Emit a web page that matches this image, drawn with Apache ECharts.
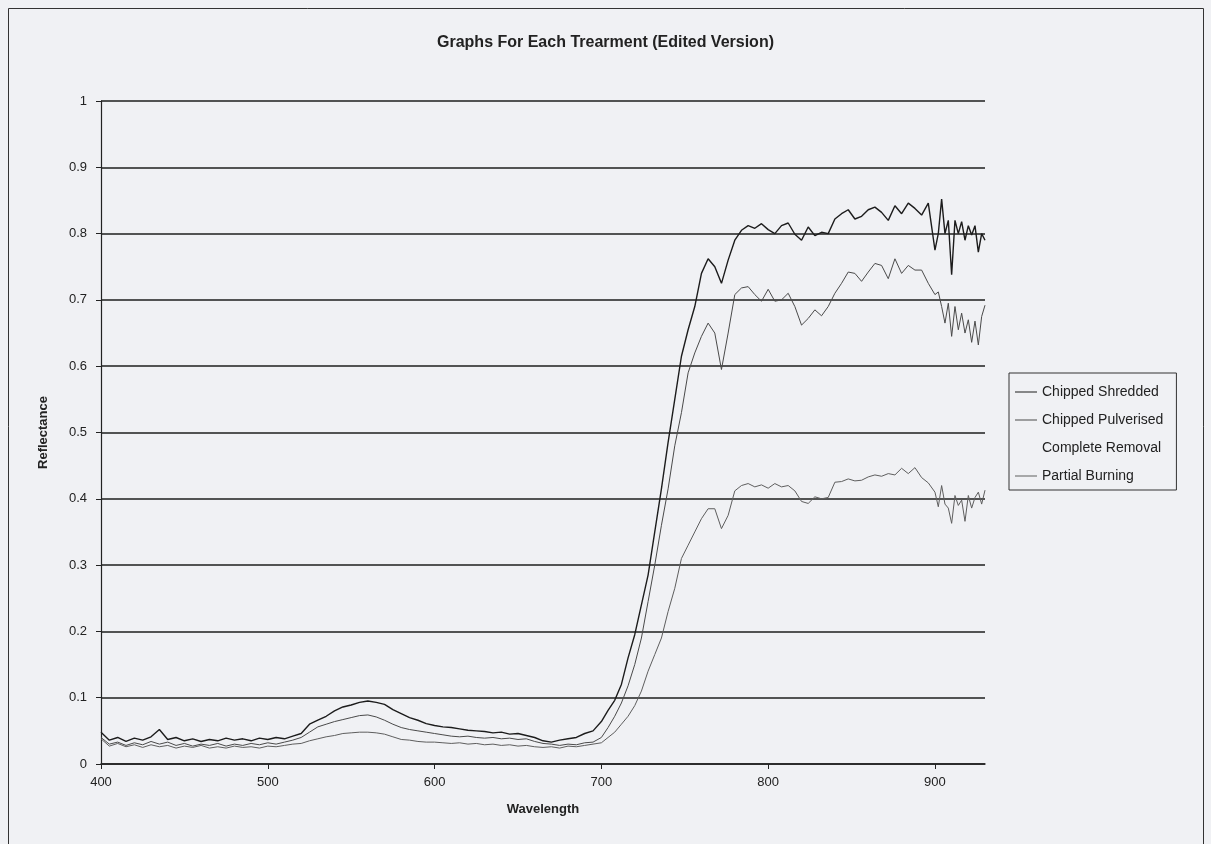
<!DOCTYPE html>
<html>
<head>
<meta charset="utf-8">
<title>Graphs For Each Trearment</title>
<script src="https://cdn.jsdelivr.net/npm/echarts@6/dist/echarts.min.js"></script>
<style>
  html, body { margin: 0; padding: 0; background: #f0f1f4; }
  #chart { width: 1211px; height: 844px; }
</style>
</head>
<body>
<div id="chart"></div>
<script>
// wavelengths (nm) - finer sampling where the curves get noisy
var wavelengths = [
  400,405,410,415,420,425,430,435,440,445,450,455,460,465,470,475,480,485,490,495,
  500,505,510,515,520,525,530,535,540,545,550,555,560,565,570,575,580,585,590,595,
  600,605,610,615,620,625,630,635,640,645,650,655,660,665,670,675,680,685,690,695,700,
  704,708,712,716,720,724,728,732,736,740,744,748,752,756,760,764,768,772,776,780,
  784,788,792,796,800,804,808,812,816,820,824,828,832,836,840,844,848,852,856,860,
  864,868,872,876,880,884,888,892,896,900,
  902,904,906,908,910,912,914,916,918,920,922,924,926,928,930
];

var chippedShredded = [
  0.048,0.036,0.040,0.034,0.039,0.036,0.041,0.052,0.037,0.040,0.035,0.038,0.034,0.037,0.035,0.039,0.036,0.038,0.035,0.039,
  0.037,0.040,0.038,0.042,0.046,0.060,0.066,0.072,0.080,0.086,0.089,0.093,0.095,0.093,0.090,0.082,0.076,0.070,0.066,0.061,
  0.058,0.056,0.055,0.053,0.051,0.050,0.049,0.047,0.048,0.045,0.046,0.043,0.040,0.035,0.033,0.036,0.038,0.040,0.046,0.050,0.064,
  0.081,0.096,0.120,0.160,0.195,0.240,0.285,0.350,0.415,0.485,0.550,0.615,0.655,0.690,0.740,0.762,0.750,0.725,0.760,0.790,
  0.805,0.812,0.808,0.815,0.806,0.800,0.812,0.816,0.799,0.790,0.810,0.797,0.802,0.800,0.822,0.830,0.836,0.822,0.826,0.836,
  0.840,0.832,0.820,0.842,0.830,0.846,0.838,0.828,0.846,0.775,
  0.800,0.852,0.800,0.820,0.738,0.820,0.800,0.818,0.790,0.812,0.798,0.812,0.772,0.800,0.790
];

var chippedPulverised = [
  0.040,0.030,0.033,0.028,0.032,0.029,0.034,0.030,0.033,0.028,0.031,0.027,0.030,0.028,0.031,0.027,0.030,0.028,0.031,0.029,
  0.032,0.030,0.033,0.036,0.040,0.048,0.056,0.060,0.064,0.067,0.070,0.073,0.074,0.071,0.066,0.060,0.055,0.052,0.050,0.048,
  0.046,0.044,0.042,0.041,0.042,0.040,0.039,0.040,0.038,0.039,0.037,0.038,0.034,0.031,0.030,0.028,0.030,0.029,0.032,0.033,0.040,
  0.055,0.072,0.092,0.118,0.150,0.190,0.245,0.300,0.360,0.415,0.480,0.530,0.590,0.620,0.645,0.665,0.650,0.595,0.650,0.708,
  0.718,0.720,0.708,0.698,0.716,0.698,0.700,0.710,0.690,0.662,0.672,0.685,0.676,0.690,0.710,0.725,0.742,0.740,0.728,0.742,
  0.755,0.752,0.732,0.762,0.740,0.752,0.745,0.745,0.725,0.708,
  0.712,0.690,0.665,0.695,0.645,0.690,0.655,0.680,0.650,0.670,0.636,0.668,0.632,0.675,0.692
];

var completeRemoval = [];

var partialBurning = [
  0.038,0.027,0.031,0.026,0.029,0.025,0.029,0.026,0.028,0.024,0.027,0.025,0.028,0.024,0.026,0.024,0.027,0.025,0.026,0.024,
  0.027,0.026,0.028,0.030,0.031,0.035,0.038,0.041,0.043,0.046,0.047,0.048,0.048,0.047,0.045,0.041,0.037,0.036,0.034,0.033,
  0.033,0.032,0.031,0.032,0.030,0.031,0.029,0.030,0.028,0.029,0.027,0.028,0.026,0.025,0.026,0.024,0.027,0.026,0.028,0.030,0.032,
  0.040,0.048,0.060,0.072,0.088,0.110,0.140,0.165,0.190,0.230,0.265,0.310,0.330,0.350,0.370,0.385,0.385,0.355,0.375,0.412,
  0.420,0.423,0.418,0.421,0.416,0.423,0.418,0.420,0.412,0.396,0.393,0.403,0.400,0.402,0.425,0.426,0.430,0.427,0.428,0.433,
  0.436,0.434,0.438,0.436,0.446,0.438,0.447,0.432,0.424,0.410,
  0.388,0.420,0.392,0.386,0.363,0.405,0.390,0.398,0.366,0.405,0.386,0.402,0.410,0.392,0.413
];

var xTicks = [400, 500, 600, 700, 800, 900];

function pairs(values) {
  var out = [];
  for (var i = 0; i < values.length; i++) {
    out.push([wavelengths[i], values[i]]);
  }
  return out;
}

var font = '"Liberation Sans", Arial, sans-serif';

var myChart = echarts.init(document.getElementById('chart'));

var option = {
  backgroundColor: '#f0f1f4',
  animation: false,
  title: {
    text: 'Graphs For Each Trearment (Edited Version)',
    left: 'center',
    top: 30,
    textStyle: { fontFamily: font, fontSize: 16, fontWeight: 'bold', color: '#222' }
  },
  legend: {
    orient: 'vertical',
    left: 1009,
    top: 373,
    padding: [12, 13, 7, 6],
    itemGap: 14,
    itemWidth: 22,
    itemHeight: 1,
    icon: 'rect',
    borderColor: '#333',
    borderWidth: 1,
    textStyle: { fontFamily: font, fontSize: 14, color: '#222' },
    data: ['Chipped Shredded', 'Chipped Pulverised', 'Complete Removal', 'Partial Burning']
  },
  grid: { left: 101, right: 226, top: 101, bottom: 80 },
  xAxis: {
    type: 'value',
    min: 400,
    max: 930,
    interval: 100,
    name: 'Wavelength',
    nameLocation: 'middle',
    nameGap: 39,
    nameTextStyle: { fontFamily: font, fontSize: 13, fontWeight: 'bold', color: '#222' },
    axisLine: { onZero: false, lineStyle: { color: '#222', width: 1.5 } },
    axisTick: { show: true, length: 5, customValues: xTicks, lineStyle: { color: '#222' } },
    axisLabel: { customValues: xTicks, margin: 12, fontFamily: font, fontSize: 13, color: '#222' },
    splitLine: { show: false }
  },
  yAxis: {
    type: 'value',
    min: 0,
    max: 1,
    interval: 0.1,
    name: 'Reflectance',
    nameLocation: 'middle',
    nameGap: 51,
    nameTextStyle: { fontFamily: font, fontSize: 13, fontWeight: 'bold', color: '#222' },
    axisLine: { show: true, lineStyle: { color: '#222', width: 1.2 } },
    axisTick: { show: true, length: 5, lineStyle: { color: '#222' } },
    axisLabel: { margin: 14, fontFamily: font, fontSize: 13, color: '#222' },
    splitLine: { show: true, lineStyle: { color: '#1e1e1e', width: 1.5 } }
  },
  series: [
    {
      name: 'Chipped Shredded', type: 'line', showSymbol: false,
      data: pairs(chippedShredded),
      color: '#1c1c1c',
      lineStyle: { color: '#1c1c1c', width: 1.4 }
    },
    {
      name: 'Chipped Pulverised', type: 'line', showSymbol: false,
      data: pairs(chippedPulverised),
      color: '#4a4a4a',
      lineStyle: { color: '#4a4a4a', width: 1 }
    },
    {
      name: 'Complete Removal', type: 'line', showSymbol: false,
      data: completeRemoval,
      color: 'rgba(0,0,0,0)',
      lineStyle: { color: 'rgba(0,0,0,0)', width: 1 }
    },
    {
      name: 'Partial Burning', type: 'line', showSymbol: false,
      data: pairs(partialBurning),
      color: '#5e5e5e',
      lineStyle: { color: '#5e5e5e', width: 1 }
    }
  ],
  graphic: [
    {
      type: 'rect',
      silent: true,
      shape: { x: 8.5, y: 8.5, width: 1195, height: 840 },
      style: { fill: null, stroke: '#333', lineWidth: 1 }
    }
  ]
};

myChart.setOption(option);

window.addEventListener('resize', function () {
  myChart.resize();
});
</script>
</body>
</html>
